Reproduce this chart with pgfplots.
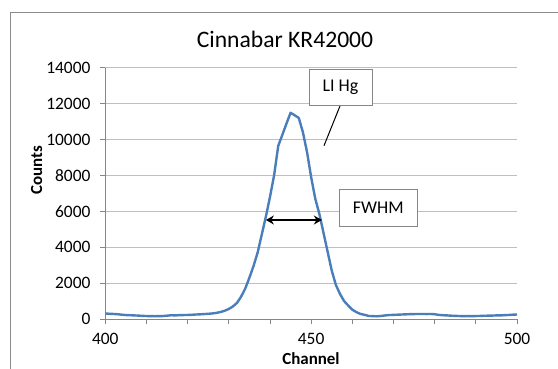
\documentclass[border=0pt]{standalone}
\usepackage{pgfplots}
\pgfplotsset{compat=1.18}
\usetikzlibrary{arrows.meta}
\usepackage{fontspec}
\setmainfont{Carlito}
\definecolor{exblue}{HTML}{4A7EBB}
\definecolor{gridgray}{HTML}{BFBFBF}
\definecolor{axgray}{HTML}{868686}
\definecolor{framegray}{HTML}{8C8C8C}
\pgfplotstableread{
ch cnt
400 310
401 290
402 280
403 265
404 240
405 220
406 210
407 200
408 190
409 175
410 165
411 160
412 155
413 160
414 165
415 185
416 210
417 200
418 215
419 220
420 225
421 235
422 250
423 260
424 275
425 290
426 310
427 340
428 390
429 460
430 560
431 700
432 900
433 1250
434 1700
435 2300
436 2950
437 3700
438 4700
439 5700
440 6800
441 8000
442 9640
443 10260
444 10880
445 11490
446 11350
447 11200
448 10400
449 9300
450 7900
451 6700
452 5850
453 4800
454 3750
455 2700
456 1900
457 1400
458 1000
459 750
460 520
461 380
462 280
463 230
464 170
465 160
466 150
467 170
468 200
469 220
470 230
471 240
472 250
473 260
474 270
475 275
476 280
477 280
478 275
479 280
480 265
481 230
482 210
483 200
484 185
485 175
486 165
487 160
488 165
489 160
490 165
491 170
492 180
493 185
494 190
495 200
496 200
497 215
498 225
499 240
500 250
}\spectrum
\begin{document}
\begin{tikzpicture}
\useasboundingbox (-105.3bp,-50bp) rectangle (452.7bp,319bp);
\draw[framegray, line width=0.8bp] (-94.6bp,-50bp) -- (-94.6bp,306.7bp) -- (452.7bp,306.7bp);
\begin{axis}[
  at={(0bp,0bp)}, anchor=south west,
  scale only axis,
  width=411.7bp, height=251.3bp,
  xmin=400, xmax=500, ymin=0, ymax=14000,
  axis x line*=bottom, axis y line*=left,
  axis line style={axgray, line width=0.8bp, -},
  xtick={400,450,500},
  minor xtick={410,420,430,440,460,470,480,490},
  ytick={0,2000,...,14000},
  tick align=outside,
  major tick length=5bp, minor tick length=5bp,
  tick style={axgray, line width=0.8bp},
  ymajorgrids,
  grid style={gridgray, line width=0.8bp},
  /pgf/number format/assume math mode=true,
  scaled y ticks=false,
  yticklabel style={/pgf/number format/1000 sep={}, font=\fontsize{17.5}{20}\selectfont, inner sep=0pt, xshift=-9.6bp},
  xticklabel style={/pgf/number format/1000 sep={}, font=\fontsize{17.5}{20}\selectfont, inner sep=0pt, yshift=-8.5bp},
  clip=false,
]
\addplot[exblue, line width=2.4bp, line join=round] table[x=ch, y=cnt] {\spectrum};
\draw[black, line width=1.8bp, {Stealth[length=8bp,width=9bp]}-{Stealth[length=8bp,width=9bp]}] (axis cs:439.0,5515) -- (axis cs:452.6,5515);
\end{axis}
\draw[black, line width=1bp] (234.7bp,213bp) -- (218.7bp,173.3bp);
\draw[axgray, line width=0.9bp, fill=white] (203.7bp,214bp) rectangle (266.7bp,250bp);
\node[font=\fontsize{18}{20}\selectfont] at (235.2bp,232bp) {LI Hg};
\draw[axgray, line width=0.9bp, fill=white] (234bp,93bp) rectangle (312bp,129.7bp);
\node[font=\fontsize{18}{20}\selectfont] at (273bp,111.3bp) {FWHM};
\node[anchor=base, font=\fontsize{23.7}{26}\selectfont] at (179.7bp,271bp) {Cinnabar KR42000};
\node[anchor=base, inner sep=0pt, font=\fontsize{17}{20}\selectfont\bfseries] at (205.7bp,-45.5bp) {Channel};
\node[rotate=90, font=\fontsize{17}{20}\selectfont\bfseries] at (-68.6bp,149bp) {Counts};
\end{tikzpicture}
\end{document}
